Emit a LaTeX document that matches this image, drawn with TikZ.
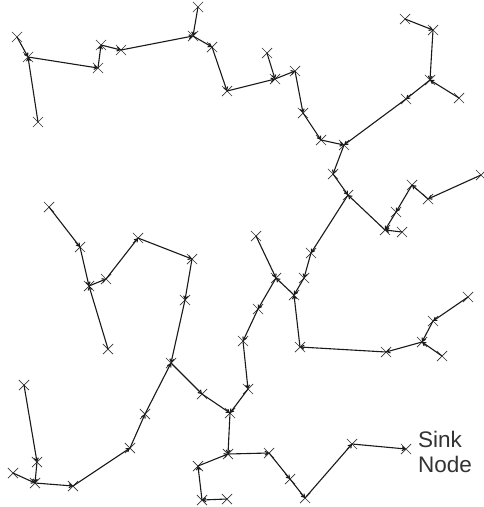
\documentclass[tikz,border=0pt]{standalone}
\usepackage{fontspec}
\setmainfont{Liberation Sans}
\usetikzlibrary{shapes.misc,arrows.meta}
\begin{document}
\begin{tikzpicture}[x=1pt,y=-1pt,
  sensor/.style={cross out,draw=black!80,line width=0.7pt,minimum size=9.5pt,inner sep=0pt},
  link/.style={draw=black!90,line width=1.1pt,-{Straight Barb[length=3pt,width=4pt]}}]
\useasboundingbox[fill=white] (0,0) rectangle (484,507);
\foreach \n/\x/\y in {A1/17/37,A2/28/57,A3/38/122,A4/98/68,A5/101/45,A6/121/50,A7/193/36,A8/198/7,A9/212/47,A10/227/91,
 B1/267/53,B2/275/79,B3/295/71,B4/303/113,B5/321/140,B6/344/145,B7/406/99,B8/430/80,B9/459/98,B10/433/30,B11/405/19,
 C1/333/174,C2/348/195,C3/385/230,C4/402/232,C5/396/212,C6/412/185,C7/428/199,C8/481/175,C9/311/253,C10/304/278,
 C11/294/295,C12/256/236,C13/276/278,C14/258/309,C15/468/297,C16/433/321,
 D1/300/347,D2/386/352,D3/422/342,D4/442/356,D5/248/389,H2/243/341,
 E1/269/453,E2/290/479,E3/305/498,E4/352/444,E5/406/449,
 F1/108/349,F2/171/363,F3/202/394,F4/230/413,F5/228/454,F6/198/466,F7/202/500,F8/227/499,F9/145/414,F10/130/448,
 F11/73/486,F12/35/483,F13/13/473,F14/37/462,F15/24/385,
 G1/49/207,G2/80/247,G3/89/286,G4/106/279,G5/138/238,G6/192/259,G7/185/300}
  {\node[sensor] (\n) at (\x,\y) {};}
\foreach \c/\p in {E4/E5,E3/E4,E2/E3,E1/E2,F5/E1,F6/F5,F7/F6,F8/F7,F4/F5,F3/F4,D5/F4,H2/D5,C14/H2,C13/C14,C12/C13,
 C11/C13,C10/C11,D1/C11,D2/D1,D3/D2,D4/D3,C16/D3,C15/C16,C9/C10,C2/C9,C1/C2,C3/C2,C4/C3,C5/C3,C6/C5,C7/C6,C8/C7,
 B6/C1,B5/B6,B7/B6,B8/B7,B9/B8,B10/B8,B11/B10,B4/B5,B3/B4,B2/B3,B1/B2,A10/B2,A9/A10,A7/A9,A8/A7,A6/A7,A5/A6,A4/A5,
 A2/A4,A1/A2,A3/A2,F2/F3,G7/F2,F9/F2,G6/G7,G5/G6,G4/G5,G3/G4,G2/G3,G1/G2,F1/G3,F10/F9,F11/F10,F12/F11,F13/F12,
 F14/F12,F15/F14}
  {\draw[link] (\c.center) -- (\p.center);}
\node[anchor=north west,align=left,inner sep=0pt,font=\fontsize{22.5}{25}\selectfont,text=black!80] (sink) at (418,431) {Sink\\Node};
\end{tikzpicture}
\end{document}
